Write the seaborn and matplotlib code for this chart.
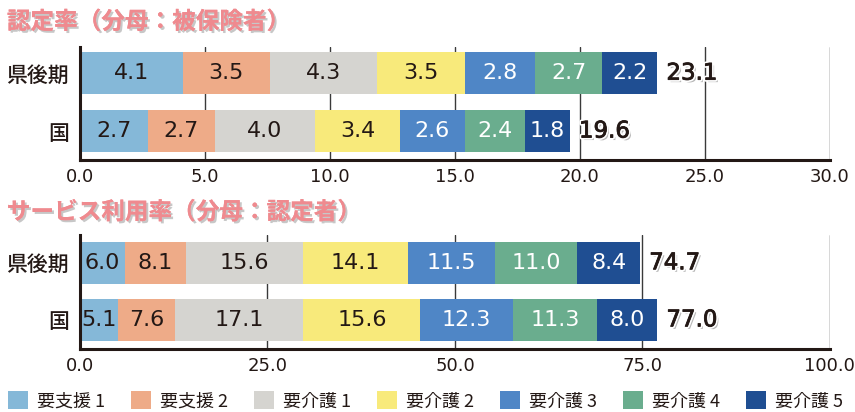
import matplotlib
matplotlib.use("Agg")
import matplotlib.pyplot as plt
import matplotlib.patheffects as pe
from matplotlib.patches import Patch
import numpy as np
import seaborn as sns

regions = ["県後期", "国"]
levels = ["要支援 1", "要支援 2", "要介護 1", "要介護 2", "要介護 3", "要介護 4", "要介護 5"]
colors = ["#85b8d8", "#eeab88", "#d5d4d0", "#f8ea7b", "#4f86c6", "#6aad8e", "#1f4e92"]
text_colors = ["#231815"] * 4 + ["white"] * 3

# 認定率（分母：被保険者）
cert_pref = [4.1, 3.5, 4.3, 3.5, 2.8, 2.7, 2.2]
cert_nat = [2.7, 2.7, 4.0, 3.4, 2.6, 2.4, 1.8]
cert_total = [23.1, 19.6]

# サービス利用率（分母：認定者）
use_pref = [6.0, 8.1, 15.6, 14.1, 11.5, 11.0, 8.4]
use_nat = [5.1, 7.6, 17.1, 15.6, 12.3, 11.3, 8.0]
use_total = [74.7, 77.0]

cert_ticks = [0, 5, 10, 15, 20, 25, 30]
use_ticks = [0, 25, 50, 75, 100]

sns.set_theme(style="white")
plt.rcParams["font.family"] = ["Noto Sans CJK JP", "DejaVu Sans"]

DARK = "#231815"
PINK = "#ef8a8f"
NUM_FONT = ["DejaVu Sans"]

fig = plt.figure(figsize=(8.55, 4.12), dpi=100)
ax1 = fig.add_axes([0.0936, 0.6117, 0.877, 0.274])
ax2 = fig.add_axes([0.0936, 0.153, 0.877, 0.277])


def draw_panel(ax, pref, nat, totals, ticks, ylim, bar_w):
    data = np.array([pref, nat])
    cum = data.cumsum(axis=1)
    # draw cumulative bars from the longest to the shortest so they stack
    for j in range(len(levels) - 1, -1, -1):
        sns.barplot(x=cum[:, j], y=regions, color=colors[j], orient="h",
                    width=bar_w, errorbar=None, saturation=1, ax=ax,
                    linewidth=0, edgecolor="none", zorder=3)
    for i in range(len(regions)):
        for j in range(len(levels)):
            ax.text(cum[i, j] - data[i, j] / 2, i, f"{data[i, j]:.1f}",
                    ha="center", va="center", fontsize=16, family=NUM_FONT,
                    color=text_colors[j], zorder=5)
        ax.text(cum[i, -1] + ticks[-1] * 0.012, i, f"{totals[i]:.1f}",
                ha="left", va="center", fontsize=16.5, family=NUM_FONT,
                color=DARK, zorder=5,
                path_effects=[pe.withSimplePatchShadow(offset=(1.8, -1.8), shadow_rgbFace="#9a9a9a", alpha=0.7),
                              pe.Stroke(linewidth=3, foreground="white"),
                              pe.Stroke(linewidth=0.6, foreground=DARK),
                              pe.Normal()])
    ax.set_xlim(ticks[0], ticks[-1])
    ax.set_ylim(*ylim)
    ax.set_xticks(ticks)
    ax.set_xticklabels([f"{t:.1f}" for t in ticks], fontsize=13, color=DARK,
                       family=NUM_FONT)
    ax.set_xlabel("")
    ax.set_ylabel("")
    ax.tick_params(axis="y", labelsize=15, colors=DARK, pad=8, length=0)
    for lbl in ax.get_yticklabels():
        lbl.set_fontweight("medium")
    ax.tick_params(axis="x", length=0, pad=6)
    for t in ticks[1:]:
        ax.axvline(t, color="#3a3a3a", lw=1, zorder=1)
    for s in ["top", "right"]:
        ax.spines[s].set_visible(False)
    for s in ["left", "bottom"]:
        ax.spines[s].set_color(DARK)
        ax.spines[s].set_linewidth(2.2)
        ax.spines[s].set_zorder(6)


draw_panel(ax1, cert_pref, cert_nat, cert_total, cert_ticks, (1.5, -0.45), 0.72)
draw_panel(ax2, use_pref, use_nat, use_total, use_ticks, (1.51, -0.49), 0.74)

title_fx = [pe.withSimplePatchShadow(offset=(1.5, -1.5), shadow_rgbFace="#b0b0b0", alpha=0.7),
            pe.Normal()]
fig.text(0.008, 0.947, "認定率（分母：被保険者）", fontsize=17, fontweight="bold",
         color=PINK, va="center", ha="left", path_effects=title_fx)
fig.text(0.008, 0.485, "サービス利用率（分母：認定者）", fontsize=17, fontweight="bold",
         color=PINK, va="center", ha="left", path_effects=title_fx)

handles = [Patch(facecolor=c, edgecolor="none") for c in colors]
fig.legend(handles, levels, ncol=7, loc="center left", bbox_to_anchor=(0.009, 0.027),
           frameon=False, fontsize=13, handlelength=1.1, handleheight=1.1,
           handletextpad=0.5, columnspacing=1.45, borderpad=0, borderaxespad=0,
           labelcolor=DARK)

fig.savefig("out.png", dpi=100)
